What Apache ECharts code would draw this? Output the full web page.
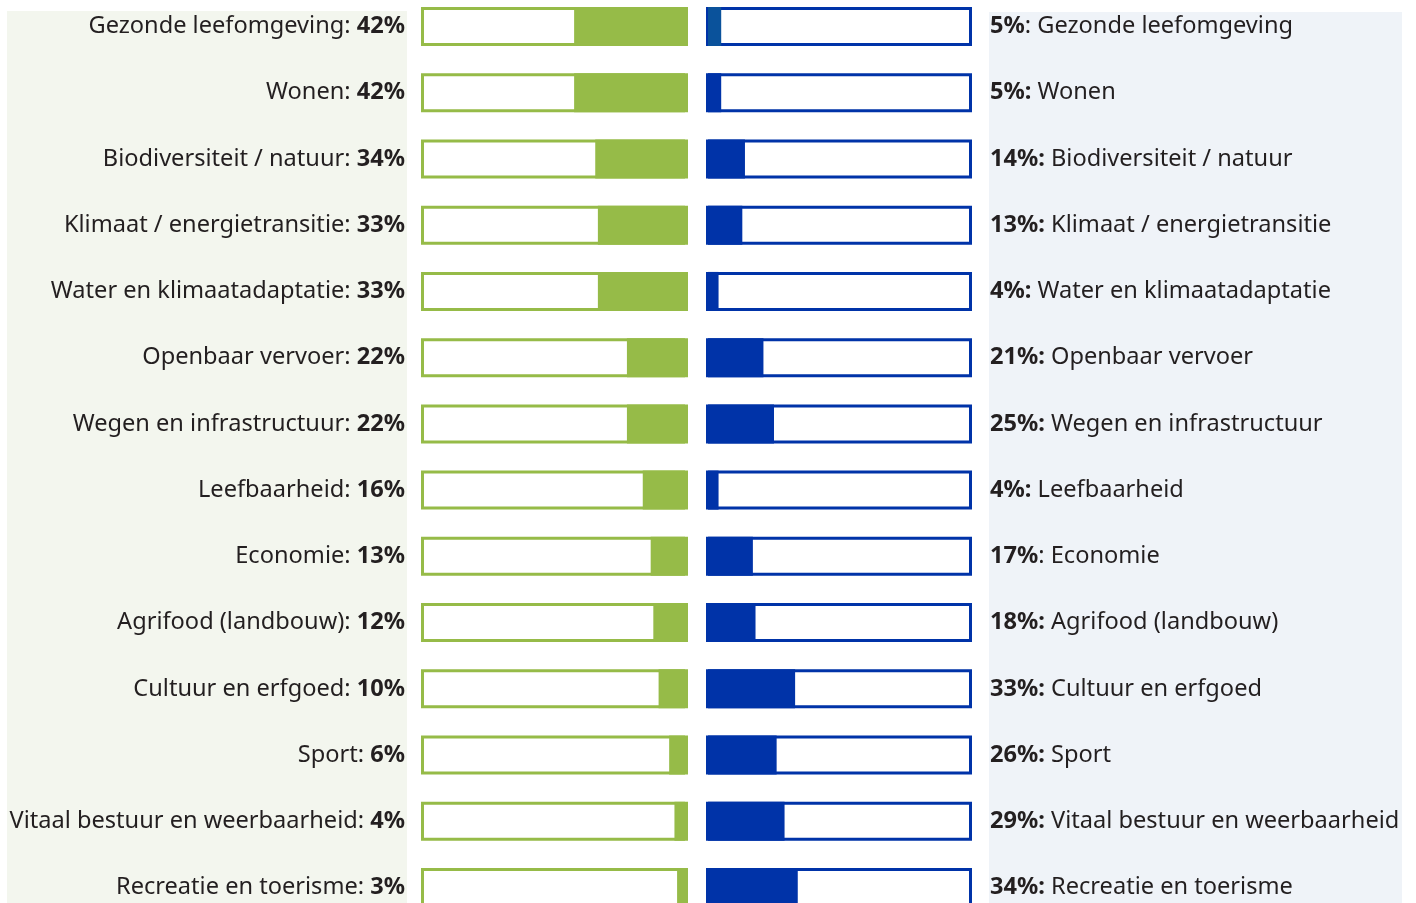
<!DOCTYPE html>
<html>
<head>
<meta charset="utf-8">
<script src="https://cdn.jsdelivr.net/npm/echarts@6/dist/echarts.min.js"></script>
<style>
html,body{margin:0;padding:0;background:#fff;}
#chart{width:1416px;height:903px;}
</style>
</head>
<body>
<div id="chart"></div>
<script>
const categories = [
  'Gezonde leefomgeving', 'Wonen', 'Biodiversiteit / natuur', 'Klimaat / energietransitie',
  'Water en klimaatadaptatie', 'Openbaar vervoer', 'Wegen en infrastructuur', 'Leefbaarheid',
  'Economie', 'Agrifood (landbouw)', 'Cultuur en erfgoed', 'Sport',
  'Vitaal bestuur en weerbaarheid', 'Recreatie en toerisme'
];
const greenValues = [42, 42, 34, 33, 33, 22, 22, 16, 13, 12, 10, 6, 4, 3];
const blueValues = [5, 5, 14, 13, 4, 21, 25, 4, 17, 18, 33, 26, 29, 34];
const fullValues = categories.map(() => 100);

const GREEN = '#96BB48';
const BLUE = '#0033A8';
const BLUE_FIRST = '#0A529B';
const FONT = 'Noto Sans';
const FS = 23.6;
const plainColonRows = new Set([0, 8]);

const chart = echarts.init(document.getElementById('chart'), null, {renderer: 'canvas'});

const TOP = 26.5, H = 861;
const BW = 39;

function hiddenCat(gridIndex) {
  return {gridIndex, type: 'category', data: categories, inverse: true, boundaryGap: false, show: false};
}

const option = {
  animation: false,
  backgroundColor: '#ffffff',
  graphic: [
    {type: 'rect', z: -10, shape: {x: 7, y: 11, width: 400, height: 900}, style: {fill: '#F3F6EE'}},
    {type: 'rect', z: -10, shape: {x: 989, y: 12, width: 413, height: 900}, style: {fill: '#EFF3F8'}}
  ],
  grid: [
    {left: 421, width: 267, top: TOP, height: H},   // green box
    {left: 421, width: 264, top: TOP, height: H},   // green fill
    {left: 706, width: 266, top: TOP, height: H},   // blue box
    {left: 708, width: 264, top: TOP, height: H}    // blue fill
  ],
  xAxis: [
    {gridIndex: 0, type: 'value', min: 0, max: 100, inverse: true, show: false},
    {gridIndex: 1, type: 'value', min: 0, max: 100, inverse: true, show: false},
    {gridIndex: 2, type: 'value', min: 0, max: 100, show: false},
    {gridIndex: 3, type: 'value', min: 0, max: 100, show: false}
  ],
  yAxis: [
    {
      gridIndex: 0, type: 'category', data: categories, inverse: true, boundaryGap: false, position: 'left',
      axisLine: {show: false}, axisTick: {show: false}, splitLine: {show: false},
      axisLabel: {
        margin: 16, align: 'right',
        formatter: (v, i) => '{n|' + v + ': }{b|' + greenValues[i] + '%}',
        rich: {
          n: {fontFamily: FONT, fontSize: FS, color: '#231F20'},
          b: {fontFamily: FONT, fontSize: FS, fontWeight: 'bold', color: '#231F20'}
        }
      }
    },
    hiddenCat(1),
    {
      gridIndex: 2, type: 'category', data: categories, inverse: true, boundaryGap: false, position: 'right',
      axisLine: {show: false}, axisTick: {show: false}, splitLine: {show: false},
      axisLabel: {
        margin: 18, align: 'left',
        formatter: (v, i) => plainColonRows.has(i)
          ? '{b|' + blueValues[i] + '%}{n|: ' + v + '}'
          : '{b|' + blueValues[i] + '%:}{n| ' + v + '}',
        rich: {
          n: {fontFamily: FONT, fontSize: FS, color: '#231F20'},
          b: {fontFamily: FONT, fontSize: FS, fontWeight: 'bold', color: '#231F20'}
        }
      }
    },
    hiddenCat(3)
  ],
  series: [
    {
      type: 'bar', xAxisIndex: 0, yAxisIndex: 0, data: fullValues, barWidth: BW,
      itemStyle: {color: '#ffffff', borderColor: GREEN, borderWidth: 3}, silent: true, z: 1
    },
    {
      type: 'bar', xAxisIndex: 1, yAxisIndex: 1, data: greenValues, barWidth: BW,
      itemStyle: {color: GREEN}, z: 2
    },
    {
      type: 'bar', xAxisIndex: 2, yAxisIndex: 2, data: fullValues, barWidth: BW,
      itemStyle: {color: '#ffffff', borderColor: BLUE, borderWidth: 3}, silent: true, z: 1
    },
    {
      type: 'bar', xAxisIndex: 3, yAxisIndex: 3, barWidth: BW,
      data: blueValues.map((v, i) => i === 0 ? {value: v, itemStyle: {color: BLUE_FIRST}} : v),
      itemStyle: {color: BLUE}, z: 2
    }
  ]
};
chart.setOption(option);
</script>
</body>
</html>
